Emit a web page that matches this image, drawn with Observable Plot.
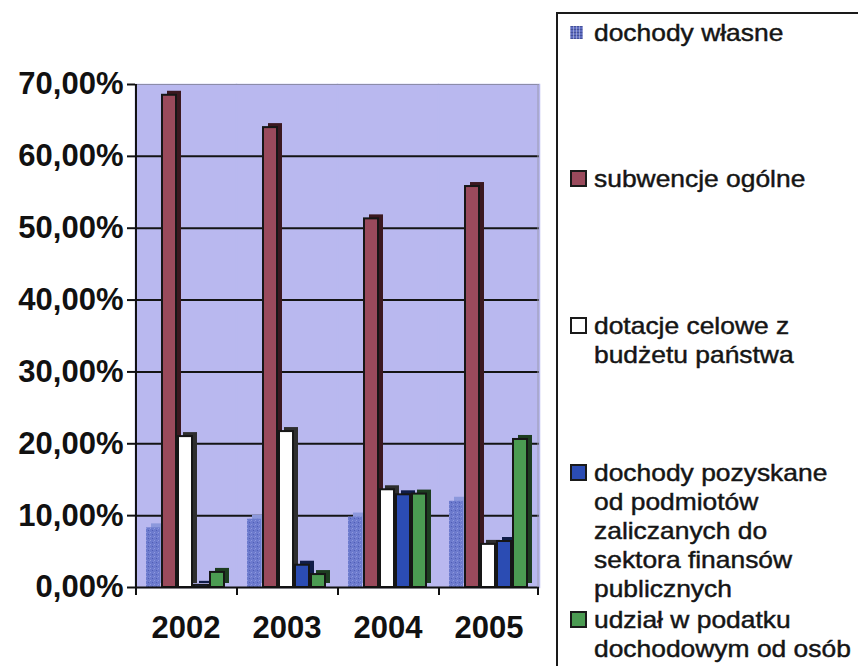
<!DOCTYPE html>
<html lang="pl">
<head>
<meta charset="utf-8">
<script src="https://cdn.jsdelivr.net/npm/d3@7"></script>
<script src="https://cdn.jsdelivr.net/npm/@observablehq/plot@0.6"></script>
<style>
  html, body { margin: 0; padding: 0; background: #fff; }
  #root { position: relative; width: 858px; height: 666px; overflow: hidden; font-family: "Liberation Sans", Arial, sans-serif; color: #151515; }
  #chart { position: absolute; left: 0; top: 0; }
  #legend { position: absolute; left: 556px; top: 12px; width: 320px; height: 720px; border: 2px solid #1a1a1a; box-sizing: border-box; }
  .entry { position: absolute; left: 12px; }
  .sw { position: absolute; left: 0; top: -8.5px; width: 17px; height: 17px; box-sizing: border-box; border: 2.5px solid #1a1a1a; }
  .sw.pattern { width: 13px; height: 13px; top: -6.5px; border: none; }
  .lbl { position: absolute; left: 24px; top: -14.5px; white-space: pre; font-size: 24px; line-height: 29px; transform: scaleX(1.1); transform-origin: 0 0; -webkit-text-stroke: 0.45px #151515; }
</style>
</head>
<body>
<div id="root">
  <div id="chart"></div>
  <div id="legend"></div>
</div>
<script>
// ---- data ----
const years = ["2002", "2003", "2004", "2005"];
const series = [
  "dochody własne",
  "subwencje ogólne",
  "dotacje celowe z\nbudżetu państwa",
  "dochody pozyskane\nod podmiotów\nzaliczanych do\nsektora finansów\npublicznych",
  "udział w podatku\ndochodowym od osób"
];
const dochodyWlasne = [8.3, 9.5, 9.8, 12.0];
const subwencjeOgolne = [68.5, 64.0, 51.3, 55.8];
const dotacjeCelowe = [21.0, 21.7, 13.6, 6.0];
const dochodyPozyskane = [0.3, 3.1, 12.9, 6.4];
const udzialWPodatku = [2.1, 1.8, 13.0, 20.6];
const yTicks = [0, 10, 20, 30, 40, 50, 60, 70];
const gridTicks = [10, 20, 30, 40, 50, 60];

// ---- styles ----
const frontColors = ["url(#dwPattern)", "#9a4a5c", "#ffffff", "#2b4cb3", "#4b9b52"];
const sideColors = ["#8c98dc", "#3b1820", "#2e2e2e", "#101c48", "#1d3d20"];
const wallColor = "#b9b8ef";

const valuesBySeries = [dochodyWlasne, subwencjeOgolne, dotacjeCelowe, dochodyPozyskane, udzialWPodatku];
const rows = series.flatMap((s, k) => years.map((y, i) => ({year: y, series: s, k, value: valuesBySeries[k][i]})));

// ---- layout ----
const W = 548, H = 666, ML = 133, MR = 8, MT = 84, MB = 79;
const PI = 0.1, PO = 0.6;
const facetW = (W - ML - MR) / years.length;
const step = facetW / (series.length - PI + 2 * PO);
const edgeOffset = PO * step + (1 - PI) * step / 2;
const tickLen = 70 / (H - MT - MB) * 8;
const DX = 5, DY = 4;

const chart = Plot.plot({
  width: W, height: H,
  marginLeft: ML, marginRight: MR, marginTop: MT, marginBottom: MB,
  style: {fontFamily: "'Liberation Sans', Arial, sans-serif", background: "transparent", color: "#111", overflow: "visible"},
  fx: {domain: years, padding: 0, label: null},
  x: {domain: series, paddingInner: PI, paddingOuter: PO, axis: null},
  y: {domain: [0, 70]},
  color: {type: "identity"},
  marks: [
    Plot.frame({fill: wallColor, stroke: wallColor, strokeWidth: 1.5}),
    Plot.ruleY([70], {stroke: "#8c8ca8", strokeWidth: 1}),
    Plot.ruleY(gridTicks, {stroke: "#141414", strokeWidth: 2}),
    Plot.barY(rows, {fx: "year", x: "series", y: "value", fill: d => sideColors[d.k], dx: DX, dy: -DY}),
    Plot.barY(rows, {fx: "year", x: "series", y: "value", fill: d => frontColors[d.k],
      stroke: d => d.k === 0 ? "none" : "#161616", strokeWidth: 2}),
    Plot.ruleY([0], {stroke: "#111", strokeWidth: 2}),
    Plot.ruleX([series[0]], {dx: -edgeOffset, y1: 0, y2: -tickLen, stroke: "#111", strokeWidth: 2}),
    Plot.ruleX([{year: years[years.length - 1], s: series[series.length - 1]}],
      {fx: "year", x: "s", dx: edgeOffset, y1: -tickLen, y2: 70, stroke: "#9a9ab0", strokeWidth: 1}),
    Plot.ruleX([{year: years[years.length - 1], s: series[series.length - 1]}],
      {fx: "year", x: "s", dx: edgeOffset, y1: 0, y2: -tickLen, stroke: "#111", strokeWidth: 2}),
    Plot.ruleX([{year: years[0], s: series[0]}],
      {fx: "year", x: "s", dx: -edgeOffset, y1: -tickLen, y2: 70, stroke: "#111", strokeWidth: 2}),
    Plot.axisY(yTicks, {tickSize: 8, tickPadding: 4, strokeWidth: 2,
      tickFormat: d => d.toFixed(2).replace(".", ",") + "%",
      fontSize: 31, fontWeight: "bold", color: "#111", label: null}),
    Plot.axisFx({anchor: "bottom", tickSize: 0, tickPadding: 28, fontSize: 31, fontWeight: "bold", color: "#111", label: null})
  ]
});

d3.select(chart).insert("defs", ":first-child").html(
  '<pattern id="dwPattern" width="4" height="4" patternUnits="userSpaceOnUse">' +
  '<rect width="4" height="4" fill="#6c7acd"/>' +
  '<rect x="0" y="0" width="1" height="1" fill="#8e99de"/>' +
  '<rect x="2" y="2" width="1" height="1" fill="#4f5db5"/>' +
  '<rect x="3" y="1" width="1" height="1" fill="#7c88d6"/>' +
  '</pattern>'
);
document.getElementById("chart").appendChild(chart);

// ---- legend ----
const legendSwatch = ["#5e6cc0", "#9a4a5c", "#ffffff", "#2b4cb3", "#4b9b52"];
const legend = d3.select("#legend");
series.forEach((s, i) => {
  const entry = legend.append("div").attr("class", "entry").style("top", (32 + 146.75 * i - 14) + "px");
  const sw = entry.append("div").attr("class", i === 0 ? "sw pattern" : "sw").style("background-color", legendSwatch[i]);
  if (i === 0) sw.style("background-image", "repeating-linear-gradient(90deg, rgba(255,255,255,0.35) 0 1px, transparent 1px 3px), repeating-linear-gradient(0deg, rgba(20,30,90,0.35) 0 1px, transparent 1px 3px)");
  entry.append("div").attr("class", "lbl").text(s);
});
</script>
</body>
</html>
